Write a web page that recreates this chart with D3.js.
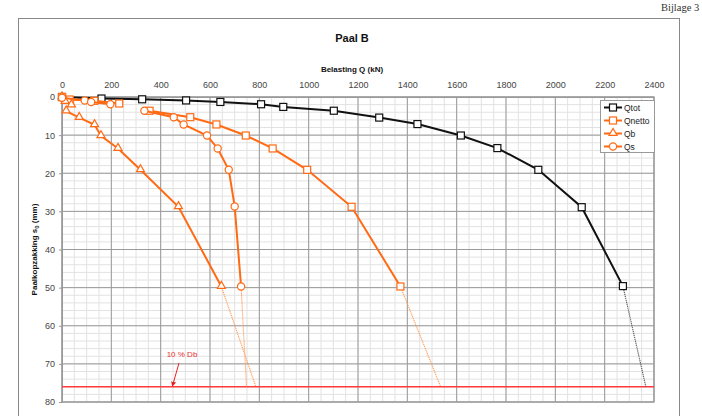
<!DOCTYPE html>
<html>
<head>
<meta charset="utf-8">
<script src="https://cdn.jsdelivr.net/npm/d3@7"></script>
<style>
  html, body { margin: 0; padding: 0; background: #fff; }
  svg { display: block; font-family: Arial, "Liberation Sans", sans-serif; }
</style>
</head>
<body>
<svg id="chart" width="702" height="416"></svg>
<script>
// Load test Paal B: load Q (kN) against pile head settlement s0 (mm)
// null marks a break in the measured curve
const qtotLoad   = [0, 160, 325, 503, 642, 807, 897, 1102, 1286, 1441, 1617, 1765, 1931, 2107, 2274];
const qtotSettle = [0, 0.4, 0.6, 0.9, 1.3, 1.9, 2.6, 3.6, 5.4, 7.1, 10.1, 13.4, 19.1, 28.9, 49.6];

const qnettoLoad   = [0, 31, 131, 232, null, 355, 520, 626, 745, 854, 994, 1174, 1372];
const qnettoSettle = [0, 0.65, 1.0, 1.7, null, 3.6, 5.3, 7.2, 10.1, 13.5, 19.1, 28.8, 49.7];

const qbLoad   = [0, 13, 38, null, 17, 70, 132, 158, 227, 318, 472, 646];
const qbSettle = [0, 1.2, 2.1, null, 3.7, 5.4, 7.3, 10.2, 13.5, 19.1, 28.8, 49.7];

const qsLoad   = [0, 92, 118, 196, null, 334, 453, 493, 588, 631, 676, 700, 726];
const qsSettle = [0.2, 0.9, 1.3, 1.9, null, 3.6, 5.3, 7.2, 10.1, 13.5, 19.1, 28.7, 49.7];

// Extrapolated load at the 10 % Db settlement limit
const limitSettle = 76;
const qtotLimit = 2367, qnettoLimit = 1535, qbLimit = 786, qsLimit = 748;

const xTicks = [0, 200, 400, 600, 800, 1000, 1200, 1400, 1600, 1800, 2000, 2200, 2400];
const yTicks = [0, 10, 20, 30, 40, 50, 60, 70, 80];

const svg = d3.select("#chart");
const plotL = 62, plotR = 654, plotT = 97, plotB = 402;
const x = d3.scaleLinear().domain([0, 2400]).range([plotL, plotR]);
const y = d3.scaleLinear().domain([0, 80]).range([plotT, plotB]);

// page frame and annex label
svg.append("rect").attr("x", 18.5).attr("y", 18.5).attr("width", 661).attr("height", 420)
  .attr("fill", "none").attr("stroke", "#888").attr("stroke-width", 1);
svg.append("text").attr("x", 661).attr("y", 11).attr("font-family", "'Liberation Serif', serif")
  .attr("font-size", 10.5).attr("fill", "#333").text("Bijlage 3");

// titles
svg.append("text").attr("x", 352).attr("y", 42).attr("text-anchor", "middle")
  .attr("font-size", 11).attr("font-weight", "bold").attr("fill", "#111").text("Paal B");
svg.append("text").attr("x", 352).attr("y", 72).attr("text-anchor", "middle")
  .attr("font-size", 8).attr("font-weight", "bold").attr("fill", "#111").text("Belasting Q (kN)");
const yt = svg.append("text").attr("transform", "translate(37," + ((plotT + plotB) / 2) + ") rotate(-90)")
  .attr("text-anchor", "middle").attr("font-size", 8).attr("font-weight", "bold").attr("fill", "#111");
yt.append("tspan").text("Paalkopzakking s");
yt.append("tspan").attr("font-size", 6).attr("dy", 2).text("0");
yt.append("tspan").attr("dy", -2).text(" (mm)");

// grid
const grid = svg.append("g");
grid.selectAll(".vminor").data(d3.range(0, 2401, 50)).join("line")
  .attr("x1", d => x(d)).attr("x2", d => x(d)).attr("y1", plotT).attr("y2", plotB)
  .attr("stroke", "#e2e2e2").attr("stroke-width", 1);
grid.selectAll(".hminor").data(d3.range(0, 81, 2)).join("line")
  .attr("x1", plotL).attr("x2", plotR).attr("y1", d => y(d)).attr("y2", d => y(d))
  .attr("stroke", "#e2e2e2").attr("stroke-width", 1);
grid.selectAll(".vmajor").data(xTicks).join("line")
  .attr("x1", d => x(d)).attr("x2", d => x(d)).attr("y1", plotT).attr("y2", plotB)
  .attr("stroke", "#9a9a9a").attr("stroke-width", 1);
grid.selectAll(".hmajor").data(yTicks).join("line")
  .attr("x1", plotL).attr("x2", plotR).attr("y1", d => y(d)).attr("y2", d => y(d))
  .attr("stroke", "#9a9a9a").attr("stroke-width", 1);
svg.append("rect").attr("x", plotL).attr("y", plotT).attr("width", plotR - plotL).attr("height", plotB - plotT)
  .attr("fill", "none").attr("stroke", "#999").attr("stroke-width", 1.2);

// axes
const xAxis = svg.append("g").attr("transform", "translate(0," + plotT + ")")
  .call(d3.axisTop(x).tickValues(xTicks).tickFormat(d3.format("d")).tickSize(0).tickPadding(9));
const yAxis = svg.append("g").attr("transform", "translate(" + plotL + ",0)")
  .call(d3.axisLeft(y).tickValues(yTicks).tickFormat(d3.format("d")).tickSize(3).tickPadding(4));
[xAxis, yAxis].forEach(a => {
  a.select(".domain").attr("stroke", "#999");
  a.selectAll(".tick line").attr("stroke", "#999");
  a.selectAll("text").attr("font-size", 9).attr("fill", "#444")
    .attr("font-family", "Arial, 'Liberation Sans', sans-serif");
});

// 10 % Db settlement limit
svg.append("line").attr("x1", plotL).attr("x2", plotR).attr("y1", y(limitSettle)).attr("y2", y(limitSettle))
  .attr("stroke", "#ff3b3b").attr("stroke-width", 1.4);
svg.append("defs").append("marker").attr("id", "arrow").attr("viewBox", "0 0 10 10")
  .attr("refX", 8).attr("refY", 5).attr("markerWidth", 5).attr("markerHeight", 5).attr("orient", "auto")
  .append("path").attr("d", "M0,0 L10,5 L0,10 z").attr("fill", "#e82020");
svg.append("line").attr("x1", 179).attr("y1", 363).attr("x2", 172.5).attr("y2", y(limitSettle) - 1)
  .attr("stroke", "#e82020").attr("stroke-width", 1).attr("marker-end", "url(#arrow)");
svg.append("text").attr("x", 182).attr("y", 357).attr("text-anchor", "middle")
  .attr("font-size", 8).attr("fill", "#e83030").text("10 % Db");

const series = [
  { name: "Qtot",   load: qtotLoad,   settle: qtotSettle,   limit: qtotLimit,   color: "#111", ext: "#555", shape: "square" },
  { name: "Qnetto", load: qnettoLoad, settle: qnettoSettle, limit: qnettoLimit, color: "#ff6a13", ext: "#ff9a55", shape: "square" },
  { name: "Qb",     load: qbLoad,     settle: qbSettle,     limit: qbLimit,     color: "#ff6a13", ext: "#ff9a55", shape: "triangle" },
  { name: "Qs",     load: qsLoad,     settle: qsSettle,     limit: qsLimit,     color: "#ff6a13", ext: "#ff9a55", shape: "circle" }
];

const line = d3.line().defined(d => d[0] !== null).x(d => x(d[0])).y(d => y(d[1]));

function drawMarker(g, shape, cx, cy, color) {
  if (shape === "square") {
    g.append("rect").attr("x", cx - 3.5).attr("y", cy - 3.5).attr("width", 7).attr("height", 7)
      .attr("fill", "#fff").attr("stroke", color).attr("stroke-width", 1.2);
  } else if (shape === "circle") {
    g.append("circle").attr("cx", cx).attr("cy", cy).attr("r", 3.6)
      .attr("fill", "#fff").attr("stroke", color).attr("stroke-width", 1.2);
  } else {
    g.append("path").attr("d", d3.symbol().type(d3.symbolTriangle).size(28)())
      .attr("transform", "translate(" + cx + "," + (cy - 0.5) + ")")
      .attr("fill", "#fff").attr("stroke", color).attr("stroke-width", 1.2);
  }
}

// series drawn in legend order, later ones on top
series.forEach(s => {
  const pts = s.load.map((v, i) => [v, s.settle[i]]);
  const g = svg.append("g");
  const last = pts[pts.length - 1];
  g.append("line").attr("x1", x(last[0])).attr("y1", y(last[1]))
    .attr("x2", x(s.limit)).attr("y2", y(limitSettle))
    .attr("stroke", s.ext).attr("stroke-width", 1.1).attr("stroke-dasharray", "1.2,0.8");
  g.append("path").attr("d", line(pts)).attr("fill", "none")
    .attr("stroke", s.color).attr("stroke-width", 2);
  pts.filter(p => p[0] !== null).forEach(p => drawMarker(g, s.shape, x(p[0]), y(p[1]), s.color));
});

// legend
const lg = svg.append("g");
lg.append("rect").attr("x", 600.5).attr("y", 100.5).attr("width", 54).attr("height", 52)
  .attr("fill", "#fff").attr("stroke", "#999").attr("stroke-width", 1);
series.forEach((s, i) => {
  const ly = 107.5 + i * 13;
  lg.append("line").attr("x1", 604).attr("x2", 622).attr("y1", ly).attr("y2", ly)
    .attr("stroke", s.color).attr("stroke-width", 2);
  drawMarker(lg, s.shape, 613, ly, s.color);
  lg.append("text").attr("x", 624).attr("y", ly + 3).attr("font-size", 8.5).attr("fill", "#222").text(s.name);
});
</script>
</body>
</html>
